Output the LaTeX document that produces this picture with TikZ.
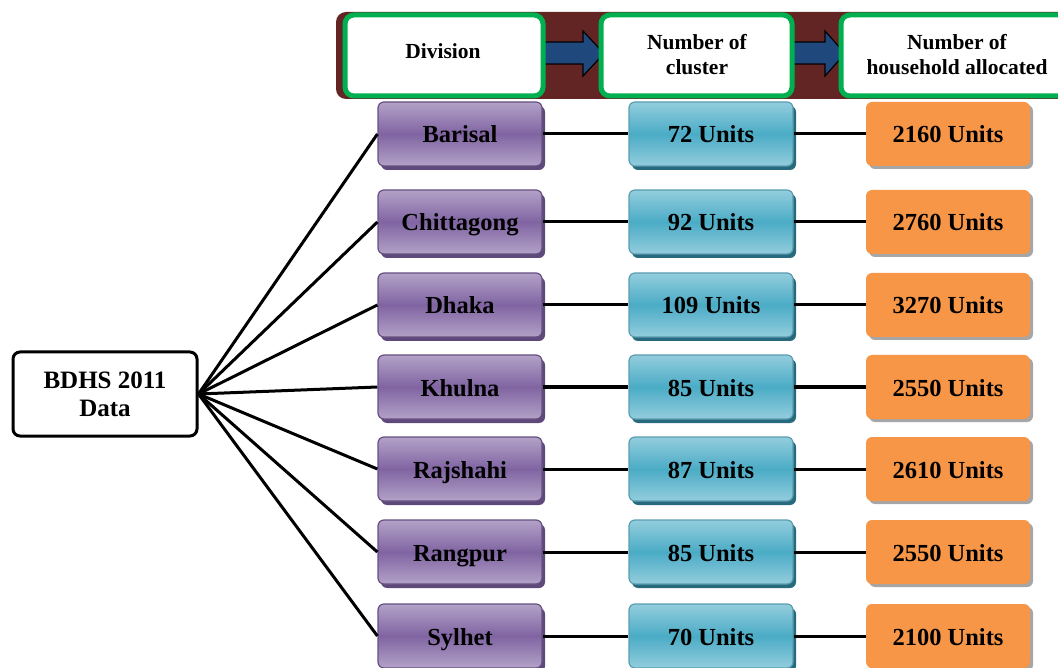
\documentclass[tikz,border=0pt]{standalone}
\usepackage{fontspec}
\setmainfont{Liberation Serif}
\usetikzlibrary{shadows}
\definecolor{maroon}{HTML}{632523}
\definecolor{hgreen}{HTML}{00B050}
\definecolor{arrblue}{HTML}{1F497D}
\definecolor{purp}{HTML}{8064A2}
\definecolor{purpl}{HTML}{B3A2C7}
\definecolor{purpd}{HTML}{5F497A}
\definecolor{cyanm}{HTML}{4BACC6}
\definecolor{cyanl}{HTML}{93CDDD}
\definecolor{cyand}{HTML}{31859C}
\definecolor{orng}{HTML}{F79646}
\begin{document}
\begin{tikzpicture}[x=1pt,y=-1pt,
  hdr/.style={draw=hgreen,line width=5pt,fill=white,rounded corners=9pt,minimum height=81pt,inner sep=0pt},
  hdrtext/.style={font=\bfseries\fontsize{21.5}{25}\selectfont,align=center,inner sep=0pt},
  rowtext/.style={font=\bfseries\fontsize{24.5}{24.5}\selectfont,text height=20pt,text depth=2pt,minimum width=164pt,minimum height=64pt,rounded corners=6pt},
  divbox/.style={rowtext,draw=purp!80!black,line width=1.2pt,top color=purpl,bottom color=purpl,middle color=purp,drop shadow={shadow xshift=3pt,shadow yshift=-4pt,fill=purpd,opacity=1}},
  clubox/.style={rowtext,draw=cyand!80,line width=1.2pt,top color=cyanl,bottom color=cyanl,middle color=cyanm,drop shadow={shadow xshift=3pt,shadow yshift=-4pt,fill=cyand!80!black,opacity=1}},
  hhbox/.style={rowtext,draw=none,fill=orng,drop shadow={shadow xshift=3pt,shadow yshift=-3pt,fill=black!35,opacity=1}},
  link/.style={line width=3pt,black},
  bigarr/.style={draw=black,line width=1.2pt,fill=arrblue}
]
\useasboundingbox (0,0) rectangle (1058,668);
% banner
\fill[maroon,rounded corners=10pt] (336,12) rectangle (1075,99);
\draw[bigarr] (540,42) -- (583,42) -- (583,31) -- (604,53.5) -- (583,76) -- (583,64) -- (540,64) -- cycle;
\draw[bigarr] (790,42) -- (825,42) -- (825,31) -- (845,53.5) -- (825,76) -- (825,64) -- (790,64) -- cycle;
\node[hdr,minimum width=198pt] (h1) at (444,55.5) {};
\node[hdr,minimum width=191pt] (h2) at (696.5,55.5) {};
\node[hdr,minimum width=240pt] (h3) at (961,55.5) {};
\node[hdrtext] (t1) at (443,51) {Division};
\node[hdrtext] (t2) at (697,55) {Number of\\cluster};
\node[hdrtext] (t3) at (957,55) {Number of\\household allocated};
% source
\node[draw,line width=3pt,rounded corners=7pt,fill=white,minimum width=184pt,minimum height=84pt,align=center,font=\bfseries\fontsize{25}{28}\selectfont] (src) at (105,394) {BDHS 2011\\Data};
% rows
\foreach \n/\y/\d/\c/\h in {1/134/Barisal/72/2160,2/222/Chittagong/92/2760,3/305/Dhaka/109/3270,4/387/Khulna/85/2550,5/469/Rajshahi/87/2610,6/552/Rangpur/85/2550,7/636/Sylhet/70/2100}{
  \node[divbox] (d\n) at (460,\y) {\d};
  \node[clubox] (c\n) at (711,\y) {\c{} Units};
  \node[hhbox] (u\n) at (948,\y) {\h{} Units};
  \draw[link] (d\n.east) -- (c\n.west);
  \draw[link] (c\n.east) -- (u\n.west);
  \draw[link] (src.east) -- (d\n.west);
}
\end{tikzpicture}
\end{document}
